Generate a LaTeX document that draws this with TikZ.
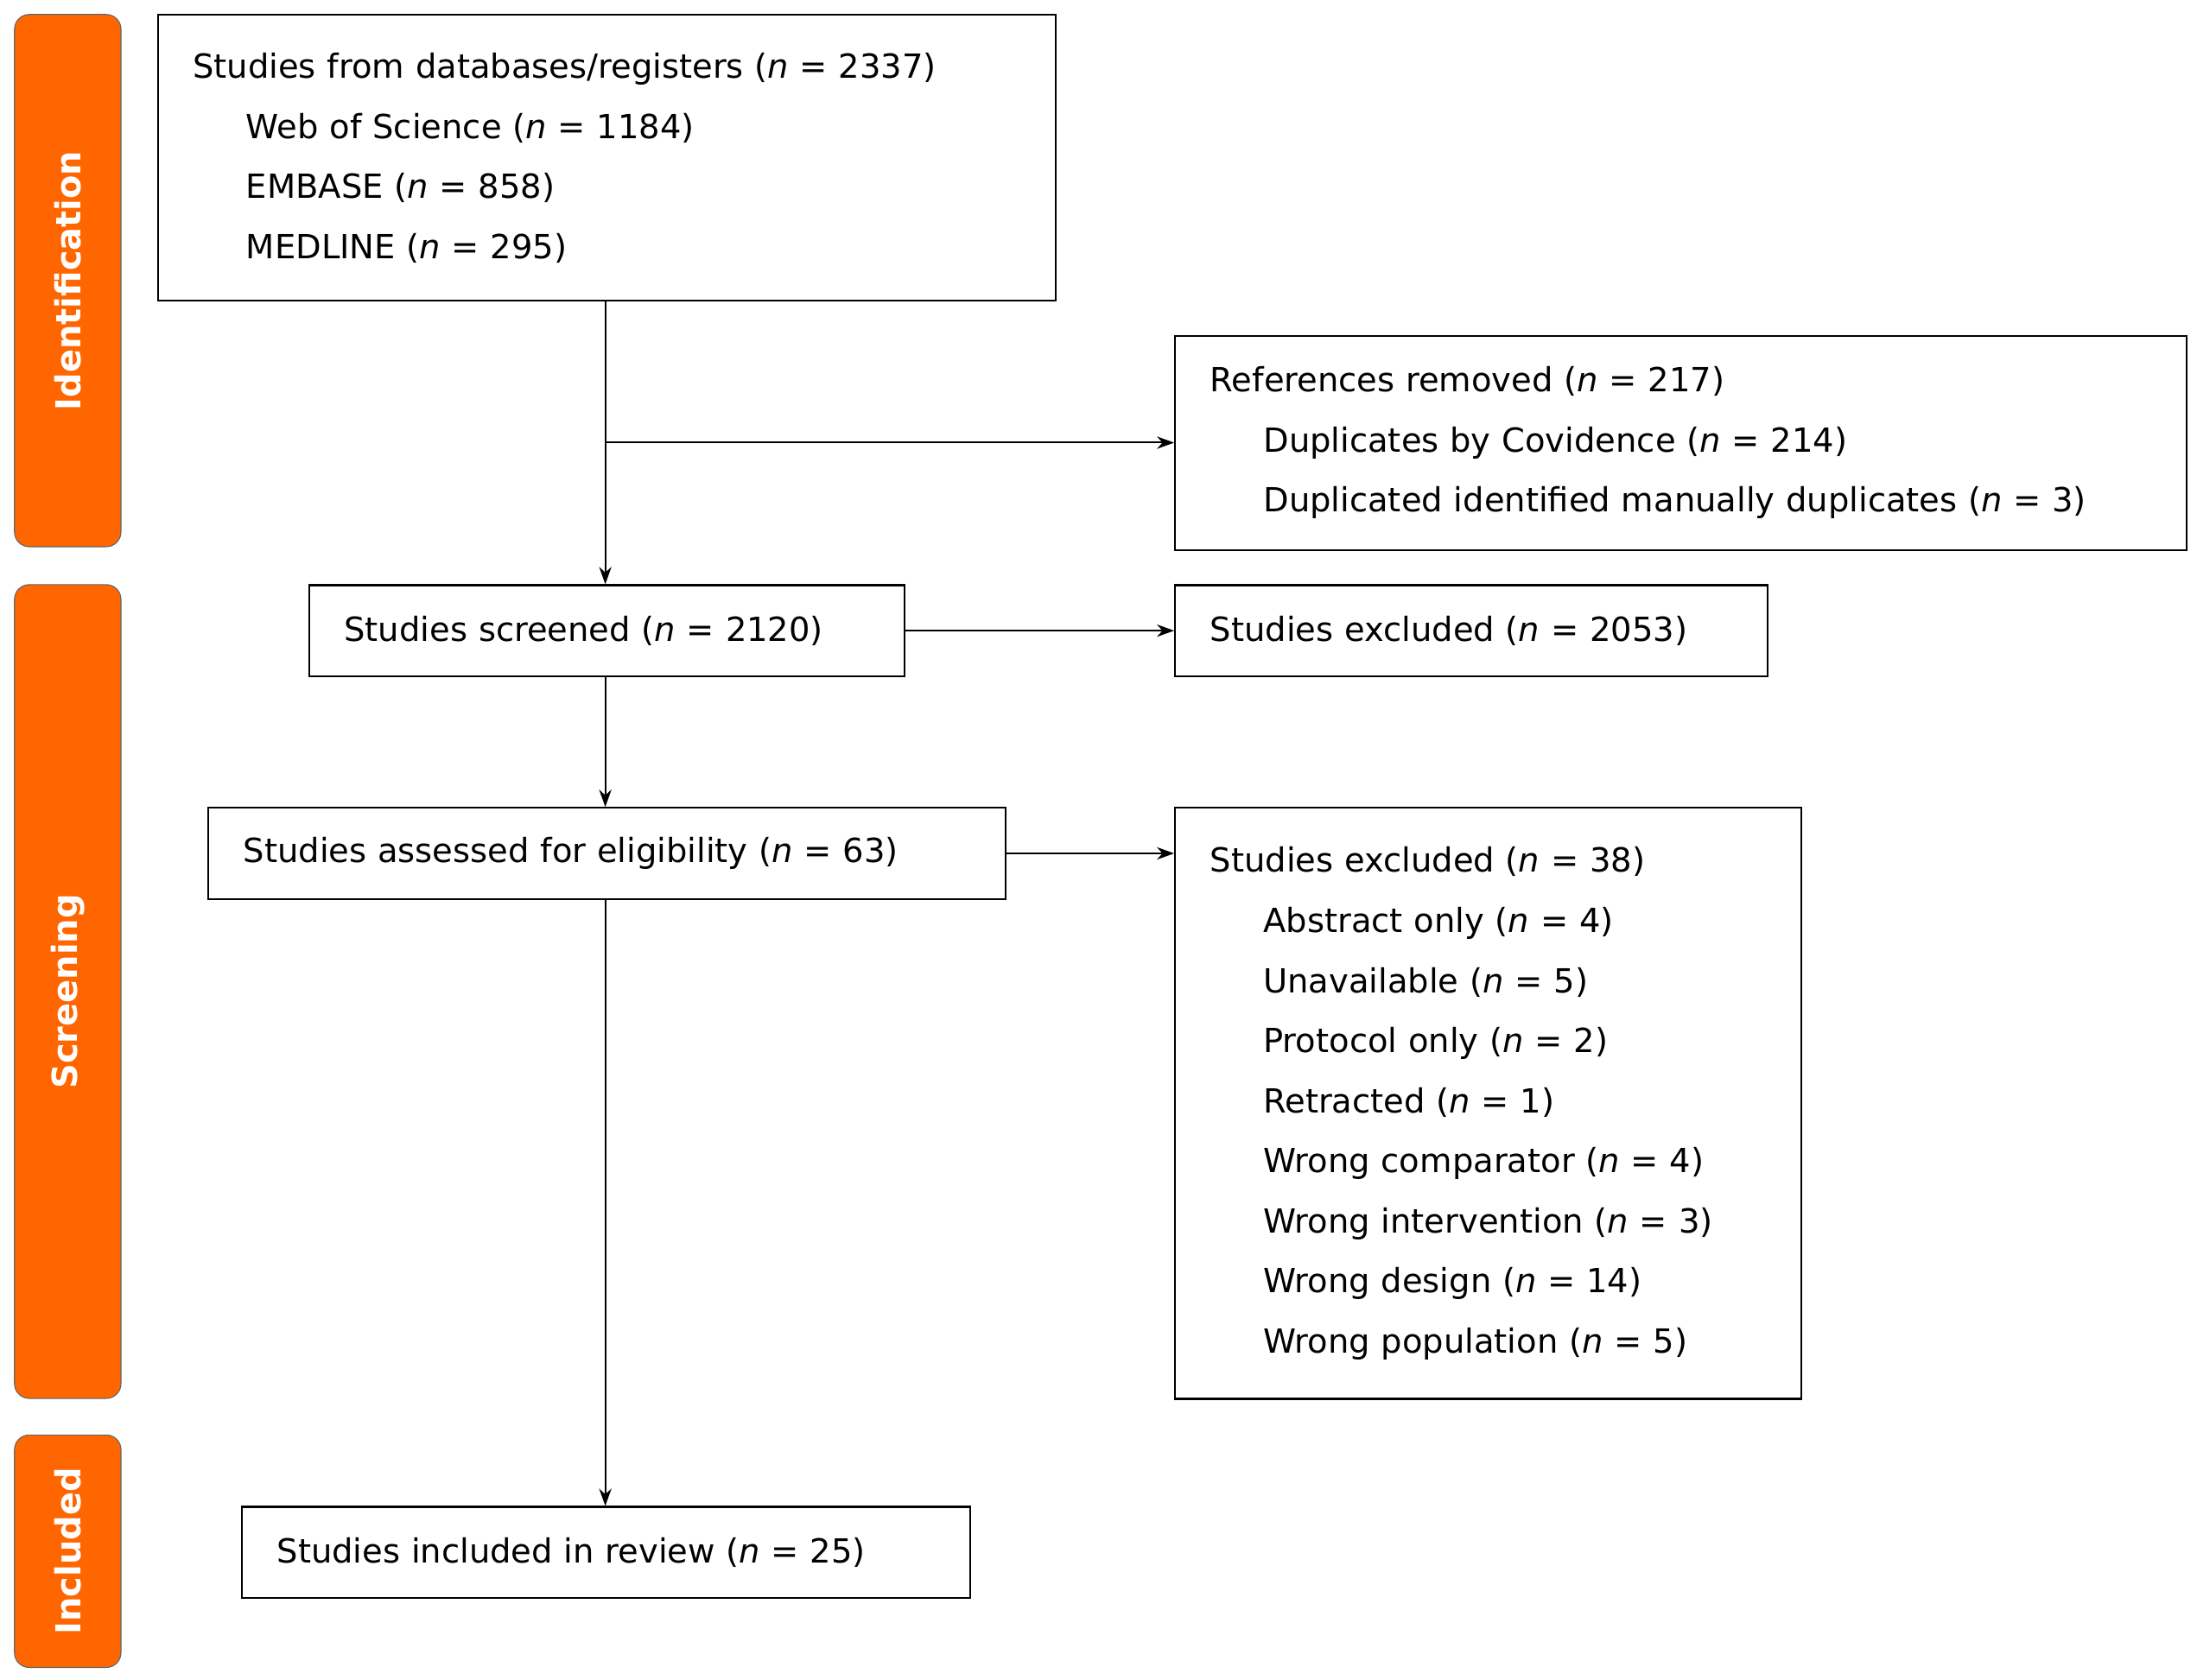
\documentclass[tikz,border=0pt]{standalone}
\usepackage{fontspec}
\setmainfont{DejaVu Sans}
\usetikzlibrary{arrows.meta}
\newcommand{\nn}{\textit{n}}
\newcommand{\ind}{\hspace*{0.76cm}}
\begin{document}
\begin{tikzpicture}[x=0.02cm,y=-0.02cm,
 box/.style={draw,line width=0.8pt,anchor=north west,align=left,inner xsep=0.5cm,font=\fontsize{13.5}{24.4}\selectfont},
 side/.style={draw=black!60,fill={rgb,255:red,255;green,102;blue,0},rounded corners=6pt,anchor=north west,minimum width=1.52cm},
 sidelbl/.style={rotate=90,text=white,font=\fontsize{14}{16}\selectfont\bfseries},
 arr/.style={-{Stealth[length=7pt,width=5pt]},line width=0.7pt}]
\useasboundingbox (0,0) rectangle (1568,1199);
\node[side,minimum height=7.6cm] (s1) at (10,10) {};
\node[sidelbl] at (s1.center) {Identification};
\node[side,minimum height=11.62cm] (s2) at (10,417) {};
\node[sidelbl] at (s2.center) {Screening};
\node[side,minimum height=3.32cm] (s3) at (10,1024) {};
\node[sidelbl] at (s3.center) {Included};

\node[box,minimum width=12.82cm,minimum height=4.08cm,text width=11.82cm] (top) at (112,10)
 {Studies from databases/registers (\nn{} = 2337)\\\ind Web of Science (\nn{} = 1184)\\\ind EMBASE (\nn{} = 858)\\\ind MEDLINE (\nn{} = 295)};
\node[box,minimum width=14.44cm,minimum height=3.06cm,text width=13.44cm] (rem) at (838,239)
 {References removed (\nn{} = 217)\\\ind Duplicates by Covidence (\nn{} = 214)\\\ind Duplicated identified manually duplicates (\nn{} = 3)};
\node[box,minimum width=8.5cm,minimum height=1.3cm,text width=7.5cm] (scr) at (220,417)
 {Studies screened (\nn{} = 2120)};
\node[box,minimum width=8.46cm,minimum height=1.3cm,text width=7.46cm] (ex1) at (838,417)
 {Studies excluded (\nn{} = 2053)};
\node[box,minimum width=11.38cm,minimum height=1.3cm,text width=10.38cm] (ass) at (148,576)
 {Studies assessed for eligibility (\nn{} = 63)};
\node[box,minimum width=8.94cm,minimum height=8.44cm,text width=7.94cm] (ex2) at (838,576)
 {Studies excluded (\nn{} = 38)\\\ind Abstract only (\nn{} = 4)\\\ind Unavailable (\nn{} = 5)\\\ind Protocol only (\nn{} = 2)\\\ind Retracted (\nn{} = 1)\\\ind Wrong comparator (\nn{} = 4)\\\ind Wrong intervention (\nn{} = 3)\\\ind Wrong design (\nn{} = 14)\\\ind Wrong population (\nn{} = 5)};
\node[box,minimum width=10.4cm,minimum height=1.3cm,text width=9.4cm] (inc) at (172,1075)
 {Studies included in review (\nn{} = 25)};

\coordinate (br) at (432,316);
\draw[arr] (top.south -| br) -- (scr.north -| br);
\draw[arr] (br) -- (br -| rem.west);
\draw[arr] (scr.east) -- (ex1.west);
\draw[arr] (scr.south -| br) -- (ass.north -| br);
\draw[arr] (ass.east) -- (ass.east -| ex2.west);
\draw[arr] (ass.south -| br) -- (inc.north -| br);
\end{tikzpicture}
\end{document}
